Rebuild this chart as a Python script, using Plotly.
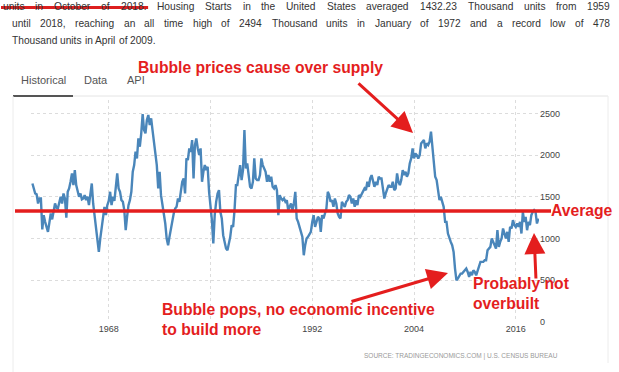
import plotly.graph_objects as go
import pandas as pd

# ---------------- data (thousand units, SAAR, bi-monthly readings) ----------------
housing_starts = [
    1660, 1600, 1540, 1530, 1420, 1480,   # 1959
    1480, 1110, 1280, 1200, 1150, 1080,   # 1960
    1190, 1300, 1230, 1330, 1420, 1370,   # 1961
    1360, 1430, 1500, 1420, 1540, 1480,   # 1962
    1250, 1560, 1600, 1680, 1780, 1640,   # 1963
    1820, 1640, 1560, 1500, 1540, 1470,   # 1964
    1480, 1520, 1460, 1500, 1400, 1560,   # 1965
    1660, 1420, 1280, 1120, 980, 840,     # 1966
    1000, 1120, 1240, 1380, 1280, 1400,   # 1967
    1450, 1560, 1400, 1500, 1450, 1600,   # 1968
    1780, 1600, 1560, 1460, 1440, 1340,   # 1969
    1100, 1260, 1400, 1460, 1560, 1800,   # 1970
    1880, 2040, 1960, 2200, 2100, 2260,   # 1971
    2490, 2300, 2260, 2420, 2480, 2360,   # 1972
    2440, 2300, 2160, 2080, 1880, 1600,   # 1973
    1800, 1520, 1420, 1300, 1180, 1000,   # 1974
    920, 1020, 1120, 1240, 1300, 1360,    # 1975
    1380, 1480, 1440, 1560, 1680, 1720,   # 1976
    1540, 1960, 1940, 2080, 2040, 2180,   # 1977
    1720, 2120, 2200, 2080, 2000, 2080,   # 1978
    1680, 1800, 1880, 1820, 1860, 1560,   # 1979
    1400, 1220, 940, 1280, 1440, 1540,    # 1980
    1580, 1320, 1240, 1040, 960, 880,     # 1981
    860, 940, 1020, 1160, 1140, 1340,     # 1982
    1640, 1640, 1780, 1880, 1700, 1820,   # 1983
    2300, 1840, 1900, 1720, 1620, 1600,   # 1984
    1680, 1960, 1720, 1700, 1700, 1760,   # 1985
    1960, 1880, 1840, 1800, 1680, 1760,   # 1986
    1680, 1740, 1620, 1600, 1640, 1580,   # 1987
    1280, 1520, 1480, 1460, 1480, 1440,   # 1988
    1460, 1340, 1380, 1420, 1340, 1420,   # 1989
    1560, 1240, 1200, 1120, 1080, 1020,   # 1990
    800, 920, 1000, 1020, 1060, 1080,     # 1991
    1200, 1280, 1140, 1200, 1260, 1240,   # 1992
    1080, 1280, 1240, 1300, 1360, 1560,   # 1993
    1520, 1440, 1460, 1380, 1480, 1420,   # 1994
    1300, 1260, 1240, 1440, 1400, 1380,   # 1995
    1440, 1460, 1520, 1500, 1420, 1480,   # 1996
    1380, 1460, 1400, 1520, 1500, 1540,   # 1997
    1560, 1600, 1580, 1680, 1620, 1720,   # 1998
    1760, 1680, 1620, 1680, 1640, 1740,   # 1999
    1720, 1720, 1600, 1480, 1540, 1580,   # 2000
    1640, 1620, 1620, 1680, 1580, 1600,   # 2001
    1780, 1680, 1640, 1700, 1820, 1760,   # 2002
    1800, 1740, 1780, 1900, 1960, 2080,   # 2003
    1960, 2020, 2000, 1960, 2000, 2140,   # 2004
    2160, 2180, 2080, 2140, 2120, 2160,   # 2005
    2280, 2100, 1920, 1740, 1700, 1560,   # 2006
    1460, 1500, 1440, 1380, 1200, 1200,   # 2007
    1060, 1000, 960, 920, 840, 640,       # 2008
    500, 520, 560, 580, 580, 600,         # 2009
    620, 640, 600, 540, 600, 560,         # 2010
    620, 600, 560, 620, 660, 720,         # 2011
    720, 720, 740, 740, 860, 880,         # 2012
    900, 1000, 960, 900, 880, 1100,       # 2013
    900, 960, 1000, 1120, 1040, 1000,     # 2014
    1080, 960, 1140, 1120, 1220, 1160,    # 2015
    1140, 1180, 1140, 1200, 1060, 1320,   # 2016
    1200, 1260, 1100, 1200, 1160, 1280,   # 2017
    1320, 1340, 1320, 1180, 1240,         # 2018
]
start_month = "1959-01-01"
average_line = 1330
y_ticks = [0, 500, 1000, 1500, 2000, 2500]
x_tick_years = ["1968", "1980", "1992", "2004", "2016"]
x_tick_text = ["1968", "", "1992", "2004", "2016"]

intro_lines = [
    "units in October of 2018. Housing Starts in the United States averaged 1432.23 Thousand units from 1959",
    "until 2018, reaching an all time high of 2494 Thousand units in January of 1972 and a record low of 478",
    "Thousand units in April of 2009.",
]
struck_words = 5
tabs = ["Historical", "Data", "API"]
source_text = "SOURCE: TRADINGECONOMICS.COM | U.S. CENSUS BUREAU"

dates = pd.date_range(start_month, periods=len(housing_starts), freq="2MS")

# ---------------- layout geometry (pixels) ----------------
W, H = 619, 372
PL, PR, PT, PB = 31, 539, 100, 322
YMAX = 2660
RED = "#e41e1e"
BLUE = "#4a86ba"
FONT = "Arial, Liberation Sans, sans-serif"


def px(x):
    return (x - PL) / (PR - PL)


def py(y):
    return (PB - y) / (PB - PT)


# Arial metrics for simple justified text
AR = dict(zip(" abcdefghijklmnopqrstuvwxyz",
              [278, 556, 556, 500, 556, 556, 278, 556, 556, 222, 222, 500, 222, 833,
               556, 556, 556, 556, 333, 500, 278, 556, 500, 722, 500, 500, 500]))
AR.update(dict(zip("ABCDEFGHIJKLMNOPQRSTUVWXYZ",
                   [667, 667, 722, 722, 667, 611, 778, 722, 278, 500, 667, 556, 833,
                    722, 778, 667, 778, 722, 667, 611, 722, 667, 944, 667, 667, 611])))
for d in "0123456789":
    AR[d] = 556
AR["."] = 278
AR[","] = 278


def tw(s, size):
    return sum(AR.get(c, 556) for c in s) / 1000 * size


fig = go.Figure()
fig.add_trace(go.Scatter(x=dates, y=housing_starts, mode="lines",
                         line=dict(color=BLUE, width=2.4), hoverinfo="skip"))

annotations = []
shapes = []


def text_ann(text, x, y, size, color, anchor="left", bold=False, yanchor="middle"):
    annotations.append(dict(
        text=("<b>%s</b>" % text) if bold else text,
        x=px(x), y=py(y), xref="paper", yref="paper",
        xanchor=anchor, yanchor=yanchor, showarrow=False,
        font=dict(family=FONT, size=size, color=color),
        borderpad=0, borderwidth=0, align="left"))


# intro paragraph, justified word by word
TSIZE = 10.2
line_specs = [(3, 610, 6, True), (12, 610, 23, True), (12, None, 40, False)]
word_ends = []
for li, (txt, (x0, x1, y, just)) in enumerate(zip(intro_lines, line_specs)):
    words = txt.split(" ")
    widths = [tw(w, TSIZE) for w in words]
    gap = (x1 - x0 - sum(widths)) / (len(words) - 1) if just else tw(" ", TSIZE)
    x = x0
    for w, wd in zip(words, widths):
        text_ann(w, x, y, TSIZE, "#333333")
        if li == 0:
            word_ends.append(x + wd)
        x += wd + gap

# strike-through over the first words
shapes.append(dict(type="line", xref="paper", yref="paper",
                   x0=px(1), x1=px(word_ends[struck_words - 1] + 2),
                   y0=py(7.5), y1=py(7.5),
                   line=dict(color="#dd1f1f", width=3)))

# tabs
for t, x in zip(tabs, [21, 84, 127]):
    text_ann(t, x, 80, 11, "#555555")
shapes.append(dict(type="line", xref="paper", yref="paper", x0=px(73), x1=px(608),
                   y0=py(96), y1=py(96), line=dict(color="#e4e4e4", width=1)))
shapes.append(dict(type="line", xref="paper", yref="paper", x0=px(13), x1=px(73),
                   y0=py(96), y1=py(96), line=dict(color="#555555", width=2)))
shapes.append(dict(type="line", xref="paper", yref="paper", x0=px(13), x1=px(13),
                   y0=py(96), y1=py(372), line=dict(color="#ececec", width=1)))
shapes.append(dict(type="line", xref="paper", yref="paper", x0=px(608), x1=px(608),
                   y0=py(96), y1=py(363), line=dict(color="#ececec", width=1)))

# source line
text_ann(source_text, 461, 356, 6.5, "#999999", anchor="center")

# average line
shapes.append(dict(type="line", xref="paper", yref="y", x0=px(15), x1=px(551),
                   y0=average_line, y1=average_line, line=dict(color=RED, width=3.5)))

# red commentary
text_ann("Bubble prices cause over supply", 138, 68, 15.7, RED, bold=True)
text_ann("Average", 551, 210, 15.7, RED, bold=True)
text_ann("Bubble pops, no economic incentive", 162, 309, 15.7, RED, bold=True)
text_ann("to build more", 162, 329, 15.7, RED, bold=True)
text_ann("Probably not", 473, 283, 15.7, RED, bold=True)
text_ann("overbuilt", 473, 303, 15.7, RED, bold=True)


def arrow(tail, head):
    annotations.append(dict(
        text="", x=px(head[0]), y=py(head[1]), xref="paper", yref="paper",
        ax=tail[0] - head[0], ay=tail[1] - head[1], axref="pixel", ayref="pixel",
        showarrow=True, arrowhead=2, arrowsize=1.4, arrowwidth=3, arrowcolor=RED))


arrow((357, 82), (413, 133))
arrow((350, 302), (448, 273))
arrow((536, 280), (534, 233))

fig.update_layout(
    width=W, height=H,
    margin=dict(l=PL, r=W - PR, t=PT, b=H - PB, pad=0),
    paper_bgcolor="white", plot_bgcolor="white",
    showlegend=False,
    hovermode=False,
    font=dict(family=FONT, size=9, color="#444444"),
    xaxis=dict(range=["1958-11-01", "2018-09-27"],
               tickvals=[y + "-01-01" for y in x_tick_years], ticktext=x_tick_text,
               showgrid=True, gridcolor="#dcdcdc", griddash="dot", gridwidth=1,
               zeroline=False, showline=False, ticks="",
               tickfont=dict(size=9, color="#444444")),
    yaxis=dict(range=[0, YMAX], tickvals=y_ticks, side="right",
               showgrid=True, gridcolor="#dcdcdc", griddash="dot", gridwidth=1,
               zeroline=False, showline=False, ticks="",
               tickfont=dict(size=9, color="#444444")),
    annotations=annotations,
    shapes=shapes,
)

fig.write_html("out.html",
               config={"displayModeBar": False, "staticPlot": True},
               post_script="document.body.style.margin='0';"
                           "document.body.style.overflow='hidden';")
